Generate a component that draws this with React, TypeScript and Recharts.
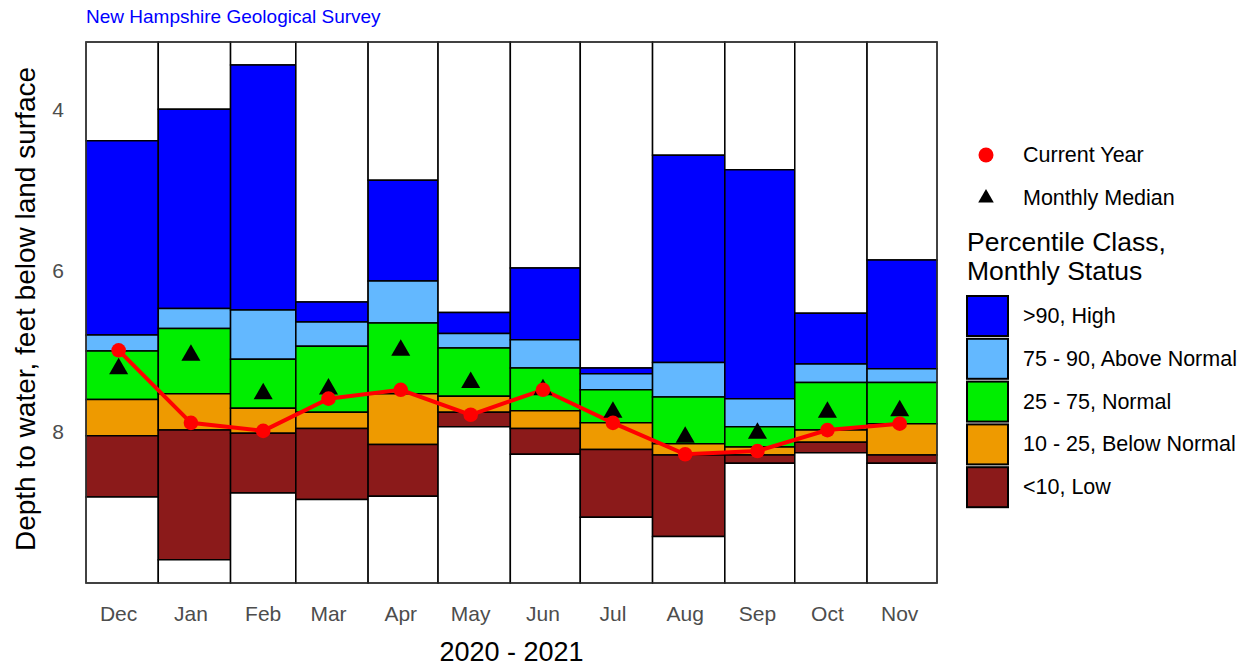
import React from "react"
import { ComposedChart, XAxis, YAxis, ReferenceArea, Line, Scatter, Label, Legend } from "recharts"

const months = ["Dec", "Jan", "Feb", "Mar", "Apr", "May", "Jun", "Jul", "Aug", "Sep", "Oct", "Nov"]

// depth to water (ft) at the class boundaries for each month
const recordMin = [4.39, 4.0, 3.45, 6.39, 4.88, 6.52, 5.97, 7.21, 4.57, 4.75, 6.53, 5.87]
const p90 = [6.8, 6.47, 6.49, 6.64, 6.13, 6.78, 6.86, 7.28, 7.14, 7.59, 7.16, 7.22]
const p75 = [7.0, 6.72, 7.1, 6.94, 6.65, 6.96, 7.21, 7.48, 7.57, 7.94, 7.39, 7.39]
const p25 = [7.6, 7.53, 7.71, 7.76, 7.53, 7.56, 7.74, 7.89, 8.15, 8.19, 7.98, 7.9]
const p10 = [8.05, 7.98, 8.02, 7.96, 8.16, 7.76, 7.96, 8.22, 8.29, 8.29, 8.13, 8.29]
const recordMax = [8.81, 9.59, 8.76, 8.84, 8.8, 7.94, 8.28, 9.06, 9.3, 8.39, 8.26, 8.39]

const currentYear = [6.99, 7.89, 7.99, 7.59, 7.48, 7.79, 7.48, 7.89, 8.28, 8.24, 7.98, 7.9]
const monthlyMedian = [7.22, 7.05, 7.53, 7.47, 6.99, 7.39, 7.48, 7.76, 8.07, 8.02, 7.76, 7.74]

const yTicks = [4, 6, 8]
const Y_TOP = 3.165
const Y_BOTTOM = 9.877

const classes = [
    { name: ">90, High", color: "#0000FF" },
    { name: "75 - 90, Above Normal", color: "#63B8FF" },
    { name: "25 - 75, Normal", color: "#00EE00" },
    { name: "10 - 25, Below Normal", color: "#EE9A00" },
    { name: "<10, Low", color: "#8B1A1A" },
]

const monthStart = (i: number) => Date.UTC(2020, 11 + i, 1)
const monthMid = (i: number) => Date.UTC(2020, 11 + i, 15)

const xTicks = months.map((_, i) => monthMid(i))

const points = months.map((m, i) => ({
    date: monthMid(i),
    current: currentYear[i],
    median: monthlyMedian[i],
}))

const boxes = months.flatMap((m, i) => {
    const edges = [Y_TOP, recordMin[i], p90[i], p75[i], p25[i], p10[i], recordMax[i], Y_BOTTOM]
    const fills = ["#FFFFFF", ...classes.map((c) => c.color), "#FFFFFF"]
    return fills.map((fill, k) => ({
        key: `${m}-${k}`,
        x1: monthStart(i),
        x2: monthStart(i + 1),
        y1: edges[k],
        y2: edges[k + 1],
        fill,
    }))
})

const FONT = "'Liberation Sans', Arial, sans-serif"

const Triangle = (props: any) => {
    const { cx, cy } = props
    const r = 11
    const h = (r * Math.sqrt(3)) / 2
    return <polygon points={`${cx},${cy - r} ${cx + h},${cy + r / 2} ${cx - h},${cy + r / 2}`} fill="#000" />
}

const LegendContent = () => {
    const r = 9
    const h = (r * Math.sqrt(3)) / 2
    return (
        <svg width={311} height={390} style={{ fontFamily: FONT, overflow: "visible" }}>
            <circle cx={46} cy={25} r={7.5} fill="#FF0000" />
            <text x={83} y={25} fontSize={21.5} dominantBaseline="central" fill="#000">
                Current Year
            </text>
            <polygon points={`46,${68 - r} ${46 + h},${68 + r / 2} ${46 - h},${68 + r / 2}`} fill="#000" />
            <text x={83} y={68} fontSize={21.5} dominantBaseline="central" fill="#000">
                Monthly Median
            </text>
            <text x={27} y={121} fontSize={26.5} fill="#000">
                Percentile Class,
            </text>
            <text x={27} y={150} fontSize={26.5} fill="#000">
                Monthly Status
            </text>
            {classes.map((c, i) => (
                <g key={c.name}>
                    <rect x={27} y={166 + i * 42.8} width={41} height={40} fill={c.color} stroke="#000" strokeWidth={2} />
                    <text x={83} y={186 + i * 42.8} fontSize={21.5} dominantBaseline="central" fill="#000">
                        {c.name}
                    </text>
                </g>
            ))}
        </svg>
    )
}

export default function App() {
    return (
        <div style={{ position: "absolute", left: 0, top: 0, width: 1251, height: 666, fontFamily: FONT, background: "#fff" }}>
            <div style={{ position: "absolute", left: 86, top: 7, fontSize: 19, lineHeight: "19px", color: "#0000FF", whiteSpace: "nowrap" }}>
                New Hampshire Geological Survey
            </div>
            <ComposedChart width={1251} height={666} data={points} margin={{ top: 42, right: 314, left: 0, bottom: 0 }}>
                <XAxis
                    dataKey="date"
                    type="number"
                    domain={[monthStart(0), monthStart(12)]}
                    allowDataOverflow
                    ticks={xTicks}
                    tickFormatter={(v) => months[xTicks.indexOf(v)]}
                    axisLine={false}
                    tickLine={false}
                    tickSize={0}
                    tickMargin={23}
                    height={83}
                    tick={{ fontSize: 21, fill: "#4D4D4D" }}
                >
                    <Label value="2020 - 2021" position="insideBottom" offset={5} fill="#000" fontSize={27} />
                </XAxis>
                <YAxis
                    type="number"
                    reversed
                    domain={[Y_TOP, Y_BOTTOM]}
                    allowDataOverflow
                    ticks={yTicks}
                    axisLine={false}
                    tickLine={false}
                    tickSize={0}
                    tickMargin={22}
                    width={86}
                    tick={{ fontSize: 21, fill: "#4D4D4D" }}
                >
                    <Label
                        content={() => (
                            <text transform="translate(35, 309) rotate(-90)" textAnchor="middle" fontSize={28} fill="#000">
                                Depth to water, feet below land surface
                            </text>
                        )}
                    />
                </YAxis>
                {boxes.map((b) => (
                    <ReferenceArea
                        key={b.key}
                        x1={b.x1}
                        x2={b.x2}
                        y1={b.y1}
                        y2={b.y2}
                        fill={b.fill}
                        fillOpacity={1}
                        stroke="#000"
                        strokeWidth={1.5}
                        ifOverflow="visible"
                    />
                ))}
                <ReferenceArea
                    x1={monthStart(0)}
                    x2={monthStart(12)}
                    y1={Y_TOP}
                    y2={Y_BOTTOM}
                    fill="none"
                    stroke="#444"
                    strokeWidth={1.2}
                    ifOverflow="visible"
                />
                <Line
                    dataKey="current"
                    stroke="#FF0000"
                    strokeWidth={4}
                    dot={{ r: 7.3, fill: "#FF0000", stroke: "none" }}
                    activeDot={false}
                    isAnimationActive={false}
                />
                <Scatter dataKey="median" shape={Triangle} isAnimationActive={false} />
                <Legend
                    layout="horizontal"
                    verticalAlign="middle"
                    align="center"
                    wrapperStyle={{ left: 940, top: 130, width: 311, height: 390 }}
                    content={LegendContent}
                />
            </ComposedChart>
        </div>
    )
}
